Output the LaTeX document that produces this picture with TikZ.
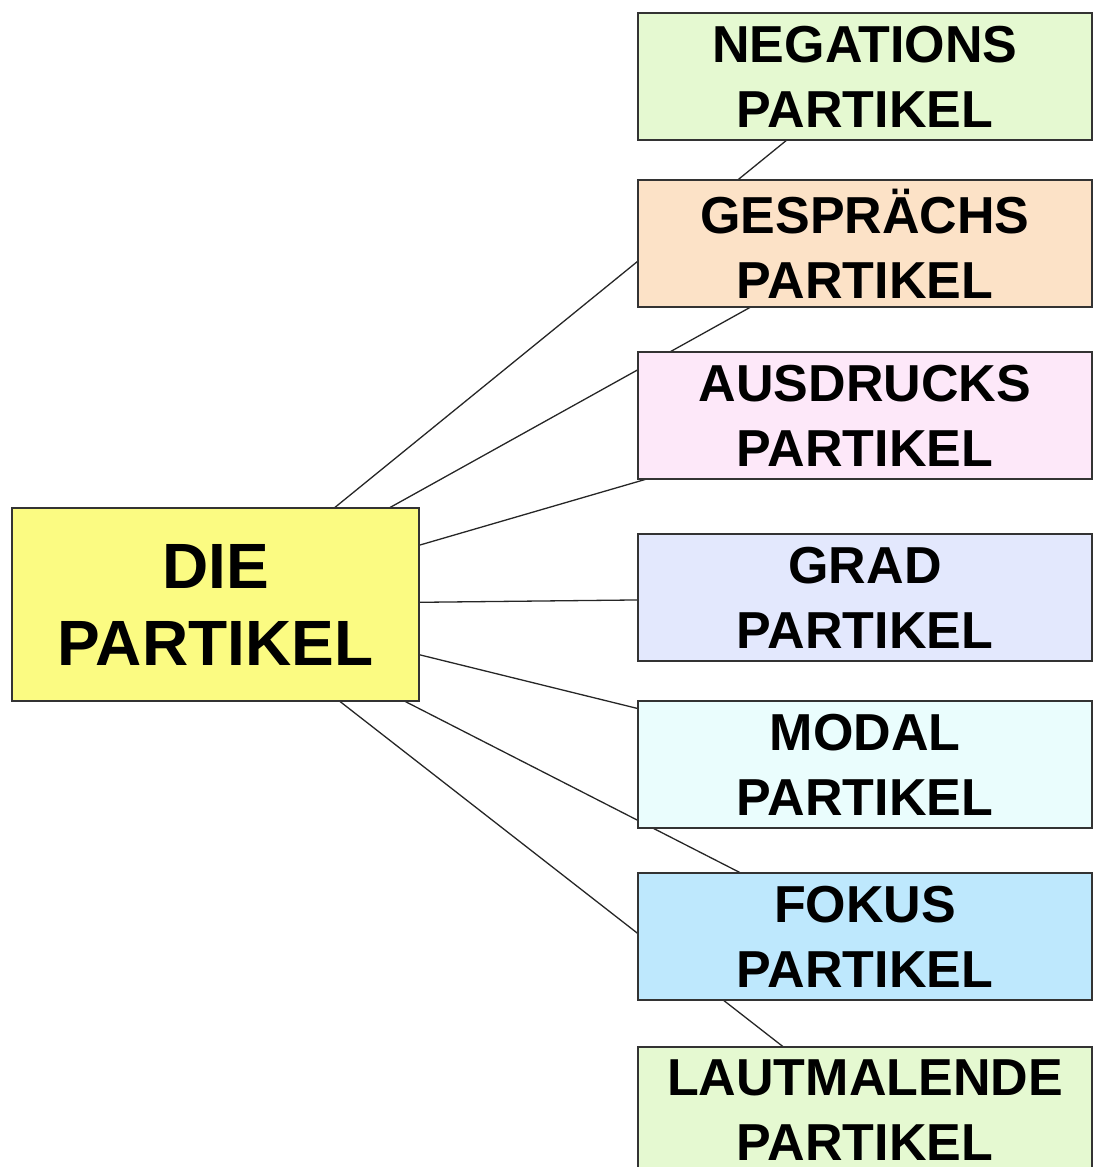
\documentclass[tikz,border=0pt]{standalone}
\usepackage{fontspec}
\setmainfont{Liberation Sans}
\usepackage{tikz}
\usetikzlibrary{positioning, backgrounds}
\definecolor{gelb}{RGB}{251,251,130}
\definecolor{gruen}{RGB}{229,249,209}
\definecolor{pfirsich}{RGB}{252,226,199}
\definecolor{rosa}{RGB}{253,232,249}
\definecolor{lavendel}{RGB}{227,232,253}
\definecolor{mint}{RGB}{234,253,253}
\definecolor{hellblau}{RGB}{190,232,253}

\tikzset{
  art/.style={draw=black!80, line width=1.6pt, inner sep=0pt, align=center,
    minimum width=454pt, minimum height=127pt,
    font=\bfseries\fontsize{52}{65}\selectfont},
  haupt/.style={art, minimum width=407pt, minimum height=193pt,
    font=\bfseries\fontsize{64}{77}\selectfont},
  ast/.style={draw=black!85, line width=1.3pt}
}

\begin{document}
\begin{tikzpicture}[x=1pt, y=-1pt]
\useasboundingbox (0,0) rectangle (1093,1167);
\clip (0,0) rectangle (1093,1167);

  % Mitte
  \node[haupt, fill=gelb] (die) at (215.5,604.5) {DIE\\PARTIKEL};

  % Arten
  \node[art, fill=gruen]     (neg)  at (865,76.5)   {NEGATIONS\\PARTIKEL};
  \node[art, fill=pfirsich]  (ges)  at (865,243.5)  {GESPRÄCHS\\PARTIKEL};
  \node[art, fill=rosa]      (aus)  at (865,415.5)  {AUSDRUCKS\\PARTIKEL};
  \node[art, fill=lavendel]  (grad) at (865,597.5)  {GRAD\\PARTIKEL};
  \node[art, fill=mint]      (mod)  at (865,764.5)  {MODAL\\PARTIKEL};
  \node[art, fill=hellblau]  (fok)  at (865,936.5)  {FOKUS\\PARTIKEL};
  \node[art, fill=gruen]     (laut) at (865,1110.5) {LAUTMALENDE\\PARTIKEL};

  % Verbindungen (hinter den Kästen)
  \begin{scope}[on background layer]
    \foreach \n in {neg, ges, aus, grad, mod, fok, laut}
      \draw[ast] (die.center) -- (\n.center);
  \end{scope}
\end{tikzpicture}
\end{document}
